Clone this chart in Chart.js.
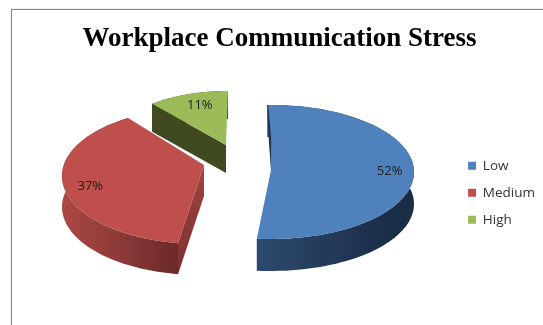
<!DOCTYPE html>
<html>
<head>
<meta charset="utf-8">
<script src="https://cdn.jsdelivr.net/npm/chart.js@4"></script>
<style>
    html, body { margin: 0; padding: 0; background: #fff; }
    #wrap { position: relative; width: 543px; height: 325px; overflow: hidden; }
    #frame { position: absolute; left: 11px; top: 9px; right: -2px; bottom: -2px; border: 1px solid #8a8a8a; box-shadow: 0 0 1px #999; }
    canvas { position: absolute; left: 0; top: 0; }
</style>
</head>
<body>
<div id="wrap">
    <div id="frame"></div>
    <canvas id="stressChart" width="543" height="325"></canvas>
</div>
<script>
const categories = ['Low', 'Medium', 'High'];
const shares = [52, 37, 11];
const topColors = ['#4F81BD', '#BE4F4C', '#9BBB59'];

// how each slice sits in the tilted view: ellipse, apex, depth and side shading
const sliceViews = [
    {cx: 271, cy: 172, rx: 143, ry: 67, apexX: 271, apexY: 170, turn: -1.5, stretch: 1, depth: 32,
        side: ['#2D4A6E', '#1A2D47'], sideFrom: 258, sideTo: 390, sliver: 2, labelAt: 0.83, labelLift: 3},
    {cx: 200, cy: 176, rx: 138, ry: 68, apexX: 204, apexY: 165, turn: 5.1, stretch: 1.047, depth: 31,
        side: ['#AB4845', '#6B2A29'], sideFrom: 62, sideTo: 180, wall: ['#A34441', '#7A302E'], labelAt: 0.81, labelLift: 0},
    {cx: 228, cy: 147, rx: 119, ry: 56, apexX: 226, apexY: 145, turn: 0, stretch: 1, depth: 28,
        side: ['#3F4A20', '#3F4A20'], sideFrom: 150, sideTo: 228, wall: ['#3F4A20', '#3F4A20'], labelAt: 0.7, labelLift: 5}
];

function outerPoint(view, clockDeg) {
    const rad = clockDeg * Math.PI / 180;
    return {x: view.cx + view.rx * Math.sin(rad), y: view.cy - view.ry * Math.cos(rad)};
}

function outerArc(view, startDeg, endDeg) {
    const mid = (startDeg + endDeg) / 2;
    const from = mid + (startDeg - mid) * view.stretch + view.turn;
    const to = mid + (endDeg - mid) * view.stretch + view.turn;
    const points = [];
    for (let i = 0; i <= 80; i++) {
        points.push(outerPoint(view, from + (to - from) * i / 80));
    }
    return points;
}

function fillPath(ctx, points, style) {
    ctx.beginPath();
    points.forEach((p, i) => {
        if (i === 0) ctx.moveTo(p.x, p.y);
        else ctx.lineTo(p.x, p.y);
    });
    ctx.closePath();
    ctx.fillStyle = style;
    ctx.fill();
}

function drawSlice(ctx, arc, view, color, value) {
    // chart.js angles start at 3 o'clock, the views count clockwise from 12
    const startDeg = arc.startAngle * 180 / Math.PI + 90;
    const endDeg = arc.endAngle * 180 / Math.PI + 90;
    const rim = outerArc(view, startDeg, endDeg);
    const apex = {x: view.apexX, y: view.apexY};
    const drop = p => ({x: p.x, y: p.y + view.depth});

    // outer side, the top face paints over the part behind it
    const sideFill = ctx.createLinearGradient(view.sideFrom, 0, view.sideTo, 0);
    sideFill.addColorStop(0, view.side[0]);
    sideFill.addColorStop(1, view.side[1]);
    fillPath(ctx, rim.concat(rim.slice().reverse().map(drop)), sideFill);

    // cut face along the first edge of the slice
    if (view.wall) {
        const wallFill = ctx.createLinearGradient(0, apex.y, 0, rim[0].y + view.depth);
        wallFill.addColorStop(0, view.wall[0]);
        wallFill.addColorStop(1, view.wall[1]);
        fillPath(ctx, [apex, rim[0], drop(rim[0]), drop(apex)], wallFill);
    }

    fillPath(ctx, [apex].concat(rim), color);

    // thin dark edge where the blue slice curls away at the top
    if (view.sliver) {
        const bend = {x: (rim[0].x + apex.x) / 2 + view.sliver, y: (rim[0].y + apex.y) / 2};
        fillPath(ctx, [rim[0], {x: rim[0].x + 1, y: rim[0].y}, bend, apex, {x: (rim[0].x + apex.x) / 2 - 0.5, y: bend.y}], '#1E3450');
    }

    const midDeg = (startDeg + endDeg) / 2 + view.turn;
    const at = {
        x: view.cx + view.labelAt * view.rx * Math.sin(midDeg * Math.PI / 180),
        y: view.cy - view.labelAt * view.ry * Math.cos(midDeg * Math.PI / 180) - view.labelLift
    };
    ctx.fillStyle = '#1c1c1c';
    ctx.font = '13px "Open Sans"';
    ctx.textAlign = 'center';
    ctx.textBaseline = 'middle';
    ctx.fillText(value + '%', at.x, at.y);
}

// the flat arcs are replaced by the tilted ones, using the angles chart.js worked out
const tiltedPie = {
    id: 'tiltedPie',
    beforeDatasetsDraw(chart) {
        const ctx = chart.ctx;
        const arcs = chart.getDatasetMeta(0).data;
        ctx.save();
        [2, 1, 0].forEach(i => {
            drawSlice(ctx, arcs[i], sliceViews[i], topColors[i], shares[i]);
        });
        ctx.restore();
        return false;
    }
};

const stressChart = new Chart(document.getElementById('stressChart').getContext('2d'), {
    type: 'pie',
    data: {
        labels: categories,
        datasets: [{
            data: shares,
            backgroundColor: topColors,
            borderWidth: 0
        }]
    },
    options: {
        responsive: false,
        animation: false,
        layout: {padding: {left: 14, right: -2, bottom: 85}},
        plugins: {
            title: {
                display: true,
                text: 'Workplace Communication Stress',
                color: '#000',
                font: {family: '"Liberation Serif"', size: 27, weight: 'bold'},
                padding: {top: 23, bottom: 2}
            },
            legend: {
                position: 'right',
                align: 'end',
                labels: {
                    color: '#333',
                    font: {family: '"Open Sans"', size: 13.5},
                    boxWidth: 8,
                    boxHeight: 8,
                    padding: 13.5
                }
            },
            tooltip: {enabled: false}
        }
    },
    plugins: [tiltedPie]
});
</script>
</body>
</html>
